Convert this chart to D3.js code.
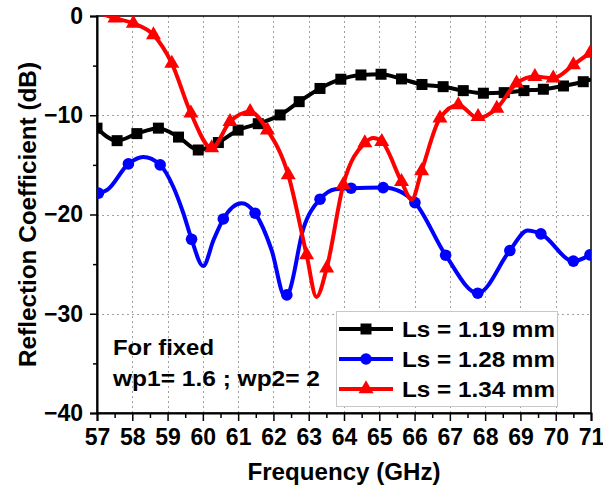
<!DOCTYPE html>
<html>
<head>
<meta charset="utf-8">
<script src="https://cdn.jsdelivr.net/npm/d3@7"></script>
<style>
  html, body { margin: 0; padding: 0; background: #fff; }
  svg { display: block; }
  text { font-family: Arial, "Liberation Sans", sans-serif; font-weight: bold; fill: #000; }
</style>
</head>
<body>
<svg id="chart" width="603" height="490"></svg>
<script>
// ---------- data ----------
const xTicks = [57, 58, 59, 60, 61, 62, 63, 64, 65, 66, 67, 68, 69, 70, 71];
const yTicks = [0, -10, -20, -30, -40];
const seriesNames = ["Ls = 1.19 mm", "Ls = 1.28 mm", "Ls = 1.34 mm"];
const seriesColors = ["#000000", "#0000ff", "#ff0000"];
const annotationLines = ["For fixed", "wp1= 1.6 ; wp2= 2"];

// Ls = 1.19 mm (black, squares) : [GHz, dB]
const blackLine = [
  [57.0, -11.3], [57.57, -12.56], [58.13, -11.85], [58.74, -11.3], [59.31, -12.2],
  [59.87, -13.5], [60.44, -12.75], [61.0, -11.5], [61.57, -10.85], [62.19, -9.97],
  [62.73, -8.63], [63.32, -7.3], [63.91, -6.37], [64.48, -5.94], [65.05, -5.87],
  [65.63, -6.34], [66.21, -6.9], [66.81, -7.12], [67.38, -7.52], [67.95, -7.78],
  [68.54, -7.72], [69.10, -7.52], [69.65, -7.38], [70.22, -7.05], [70.78, -6.62],
  [71.0, -6.4]
];
const blackMarkers = [
  [57.0, -11.3], [57.57, -12.56], [58.13, -11.85], [58.74, -11.3], [59.31, -12.2],
  [59.87, -13.5], [60.44, -12.75], [61.0, -11.5], [61.57, -10.85], [62.19, -9.97],
  [62.73, -8.63], [63.32, -7.3], [63.91, -6.37], [64.48, -5.94], [65.05, -5.87],
  [65.63, -6.34], [66.21, -6.9], [66.81, -7.12], [67.38, -7.52], [67.95, -7.78],
  [68.54, -7.72], [69.10, -7.52], [69.65, -7.38], [70.22, -7.05], [70.78, -6.62]
];

// Ls = 1.28 mm (blue, circles)
const blueLine = [
  [57.0, -17.9], [57.3, -17.5], [57.89, -14.9], [58.31, -14.2], [58.79, -15.0],
  [59.16, -17.2], [59.45, -19.9], [59.68, -22.5], [60.01, -25.2], [60.3, -22.6],
  [60.58, -20.45], [61.1, -18.86], [61.48, -19.87], [61.95, -23.6], [62.33, -28.3],
  [62.42, -28.0], [62.85, -21.4], [63.32, -18.46], [63.75, -17.45], [64.2, -17.35],
  [65.11, -17.29], [65.6, -17.7], [66.01, -18.8], [66.88, -24.1], [67.79, -27.93],
  [68.7, -23.63], [69.2, -21.6], [69.58, -21.95], [70.5, -24.7], [70.97, -24.07]
];
const blueMarkers = [
  [57.04, -17.85], [57.89, -14.9], [58.79, -15.0], [59.68, -22.5], [60.58, -20.45],
  [61.48, -19.87], [62.38, -28.1], [63.32, -18.46], [64.2, -17.35], [65.11, -17.29],
  [66.01, -18.8], [66.88, -24.1], [67.79, -27.93], [68.7, -23.63], [69.58, -21.95],
  [70.5, -24.7], [70.97, -24.07]
];

// Ls = 1.34 mm (red, triangles)
const redLine = [
  [57.0, 0.4], [57.51, -0.23], [58.03, -0.74], [58.6, -1.9], [59.12, -4.77],
  [59.66, -9.8], [60.25, -13.3], [60.77, -10.64], [61.34, -9.64], [61.83, -11.5],
  [62.42, -16.0], [62.94, -24.07], [63.22, -28.3], [63.51, -25.4], [63.98, -17.0],
  [64.59, -12.8], [64.83, -12.3], [65.07, -12.65], [65.63, -16.7], [65.92, -18.5],
  [66.2, -15.6], [66.72, -10.3], [67.24, -8.96], [67.8, -10.3], [68.33, -9.3],
  [68.89, -6.78], [69.41, -6.1], [69.93, -6.27], [70.5, -4.93], [70.97, -3.76],
  [71.0, -3.7]
];
const redMarkers = [
  [57.51, -0.23], [58.03, -0.74], [58.6, -1.9], [59.12, -4.77], [59.66, -9.8],
  [60.25, -13.3], [60.77, -10.64], [61.34, -9.64], [61.83, -11.5], [62.42, -16.0],
  [62.94, -24.07], [63.51, -25.4], [63.98, -17.0], [64.59, -12.8], [65.07, -12.65],
  [65.63, -16.7], [66.2, -15.6], [66.72, -10.3], [67.24, -8.96], [67.8, -10.14],
  [68.33, -9.3], [68.89, -6.78], [69.41, -6.1], [69.93, -6.27], [70.5, -4.93],
  [70.97, -3.76]
];

// ---------- layout ----------
const L = 97, R = 591, T = 16, B = 413;
const svg = d3.select("#chart");
const x = d3.scaleLinear().domain([57, 71]).range([L, R]);
const y = d3.scaleLinear().domain([-40, 0]).range([B, T]);

// grid
const grid = svg.append("g").attr("stroke", "#a0a0a0").attr("stroke-width", 1)
  .attr("stroke-dasharray", "2,3").attr("fill", "none");
grid.selectAll("line.v").data(xTicks.slice(1, -1)).join("line")
  .attr("x1", d => Math.round(x(d)) + 0.5).attr("x2", d => Math.round(x(d)) + 0.5)
  .attr("y1", T).attr("y2", B);
grid.selectAll("line.h").data(yTicks.slice(1, -1)).join("line")
  .attr("y1", d => Math.round(y(d)) + 0.5).attr("y2", d => Math.round(y(d)) + 0.5)
  .attr("x1", L).attr("x2", R);

// frame (top, right)
svg.append("rect").attr("x", L).attr("y", T).attr("width", R - L).attr("height", B - T)
  .attr("fill", "none").attr("stroke", "#000").attr("stroke-width", 1.5);

// axes
const xAxis = d3.axisBottom(x).tickValues(xTicks).tickSize(8).tickPadding(8).tickFormat(d3.format("d"));
const xMinor = d3.axisBottom(x).tickValues(xTicks.slice(0, -1).map(d => d + 0.5)).tickSize(5).tickFormat("");
const yAxis = d3.axisLeft(y).tickValues(yTicks).tickSize(7).tickPadding(7)
  .tickFormat(d => (d < 0 ? "\u2212" + Math.abs(d) : d));
const yMinor = d3.axisLeft(y).tickValues([-5, -15, -25, -35]).tickSize(4).tickFormat("");

function styleAxis(g) {
  g.select(".domain").attr("stroke", "#000").attr("stroke-width", 2);
  g.selectAll(".tick line").attr("stroke", "#000").attr("stroke-width", 1.5);
  g.selectAll(".tick text").style("font-family", "Arial, 'Liberation Sans', sans-serif")
    .style("font-weight", "bold").style("font-size", "23px").attr("fill", "#000");
}
svg.append("g").attr("transform", `translate(0,${B})`).call(xMinor).call(styleAxis)
  .select(".domain").remove();
svg.append("g").attr("transform", `translate(${L},0)`).call(yMinor).call(styleAxis)
  .select(".domain").remove();
svg.append("g").attr("transform", `translate(0,${B})`).call(xAxis).call(styleAxis);
svg.append("g").attr("transform", `translate(${L},0)`).call(yAxis).call(styleAxis);

// clip
svg.append("clipPath").attr("id", "plotClip").append("rect")
  .attr("x", L).attr("y", T).attr("width", R - L).attr("height", B - T);

const lineGen = d3.line().x(d => x(d[0])).y(d => y(d[1])).curve(d3.curveMonotoneX);
const plot = svg.append("g").attr("clip-path", "url(#plotClip)");

const triPath = (w, h) => `M0,${-h * 2 / 3}L${w / 2},${h / 3}L${-w / 2},${h / 3}Z`;
function drawMarker(g, kind, color) {
  if (kind === 0) {
    g.append("rect").attr("x", -5.5).attr("y", -5.5).attr("width", 11).attr("height", 11).attr("fill", color);
  } else if (kind === 1) {
    g.append("circle").attr("r", 5.8).attr("fill", color);
  } else {
    g.append("path").attr("d", triPath(15, 13)).attr("fill", color);
  }
}

const allSeries = [
  { line: blackLine, markers: blackMarkers },
  { line: blueLine, markers: blueMarkers },
  { line: redLine, markers: redMarkers }
];
allSeries.forEach((s, i) => {
  plot.append("path").datum(s.line).attr("d", lineGen)
    .attr("fill", "none").attr("stroke", seriesColors[i]).attr("stroke-width", 4)
    .attr("stroke-linejoin", "round");
  plot.selectAll(null).data(s.markers).join("g")
    .attr("transform", d => `translate(${x(d[0])},${y(d[1])})`)
    .each(function () { drawMarker(d3.select(this), i, seriesColors[i]); });
});

// annotation
svg.append("text").attr("x", 113).attr("y", 355).style("font-size", "22px")
  .attr("textLength", 101).attr("lengthAdjust", "spacingAndGlyphs").text(annotationLines[0]);
svg.append("text").attr("x", 113).attr("y", 386).style("font-size", "22px")
  .attr("textLength", 207).attr("lengthAdjust", "spacingAndGlyphs").text(annotationLines[1]);

// legend
const lg = svg.append("g");
lg.append("rect").attr("x", 336.5).attr("y", 311.5).attr("width", 221).attr("height", 95)
  .attr("fill", "#fff").attr("stroke", "#c8c8c8").attr("stroke-width", 1);
seriesNames.forEach((name, i) => {
  const yy = 329 + i * 30;
  lg.append("line").attr("x1", 339).attr("x2", 393).attr("y1", yy).attr("y2", yy)
    .attr("stroke", seriesColors[i]).attr("stroke-width", 4);
  const mg = lg.append("g").attr("transform", `translate(366,${yy})`);
  drawMarker(mg, i, seriesColors[i]);
  lg.append("text").attr("x", 402).attr("y", yy + 8).style("font-size", "22px")
    .attr("textLength", 153).attr("lengthAdjust", "spacingAndGlyphs").text(name);
});

// axis titles
svg.append("text").attr("x", (L + R) / 2).attr("y", 480).attr("text-anchor", "middle")
  .style("font-size", "23px").attr("textLength", 193).attr("lengthAdjust", "spacingAndGlyphs")
  .text("Frequency (GHz)");
svg.append("text").attr("transform", `translate(36,${(T + B) / 2}) rotate(-90)`)
  .attr("text-anchor", "middle").style("font-size", "23px")
  .attr("textLength", 305).attr("lengthAdjust", "spacingAndGlyphs")
  .text("Reflection Coefficient (dB)");
</script>
</body>
</html>
